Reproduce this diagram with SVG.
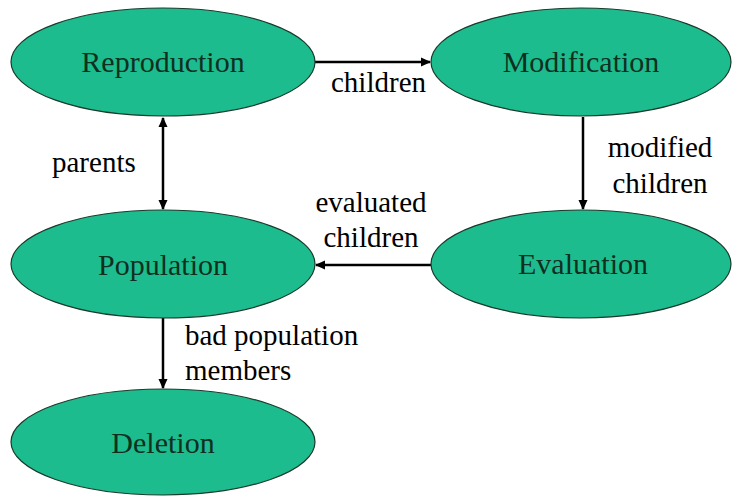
<svg xmlns="http://www.w3.org/2000/svg" width="732" height="496" viewBox="0 0 732 496">
<style>
.node ellipse{fill:#1cbc8e;stroke:#1a3a2a;stroke-width:1.2}
.node text{font-size:30px;fill:#10301f;text-anchor:middle}
.lbl{font-size:29px;fill:#000}
.edge{stroke:#000;stroke-width:2.5;fill:none}
</style>
<defs>
<marker id="ah" markerWidth="10" markerHeight="10" refX="9" refY="5" orient="auto-start-reverse" markerUnits="userSpaceOnUse">
<path d="M0,0.5 L10,5 L0,9.5 Z" fill="#000"/>
</marker>
</defs>
<rect width="732" height="496" fill="#fff"/>
<g id="connectors" font-family="Liberation Serif, DejaVu Serif, serif">
<line class="edge" x1="315" y1="62" x2="430" y2="62" marker-end="url(#ah)"/>
<line class="edge" x1="163" y1="118" x2="163" y2="209" marker-start="url(#ah)" marker-end="url(#ah)"/>
<line class="edge" x1="583" y1="117" x2="583" y2="209" marker-end="url(#ah)"/>
<line class="edge" x1="431" y1="265" x2="316" y2="265" marker-end="url(#ah)"/>
<line class="edge" x1="163" y1="318" x2="163" y2="388" marker-end="url(#ah)"/>
<text class="lbl" x="331" y="92">children</text>
<text class="lbl" x="52" y="172">parents</text>
<text class="lbl" x="660" y="157" text-anchor="middle">modified</text>
<text class="lbl" x="660" y="193" text-anchor="middle">children</text>
<text class="lbl" x="371" y="212" text-anchor="middle">evaluated</text>
<text class="lbl" x="371" y="247" text-anchor="middle">children</text>
<text class="lbl" x="185" y="345">bad population</text>
<text class="lbl" x="185" y="380">members</text>
</g>
<g font-family="Liberation Serif, DejaVu Serif, serif">
<g id="reproduction" class="node"><ellipse cx="163" cy="62" rx="152" ry="54"/><text x="163" y="72">Reproduction</text></g>
<g id="modification" class="node"><ellipse cx="581" cy="62" rx="150" ry="54"/><text x="581" y="72">Modification</text></g>
<g id="population" class="node"><ellipse cx="163" cy="264" rx="152" ry="54"/><text x="163" y="275">Population</text></g>
<g id="evaluation" class="node"><ellipse cx="581" cy="264" rx="150" ry="54"/><text x="583" y="274">Evaluation</text></g>
<g id="deletion" class="node"><ellipse cx="163" cy="442" rx="152" ry="53"/><text x="163" y="453">Deletion</text></g>
</g>
</svg>
